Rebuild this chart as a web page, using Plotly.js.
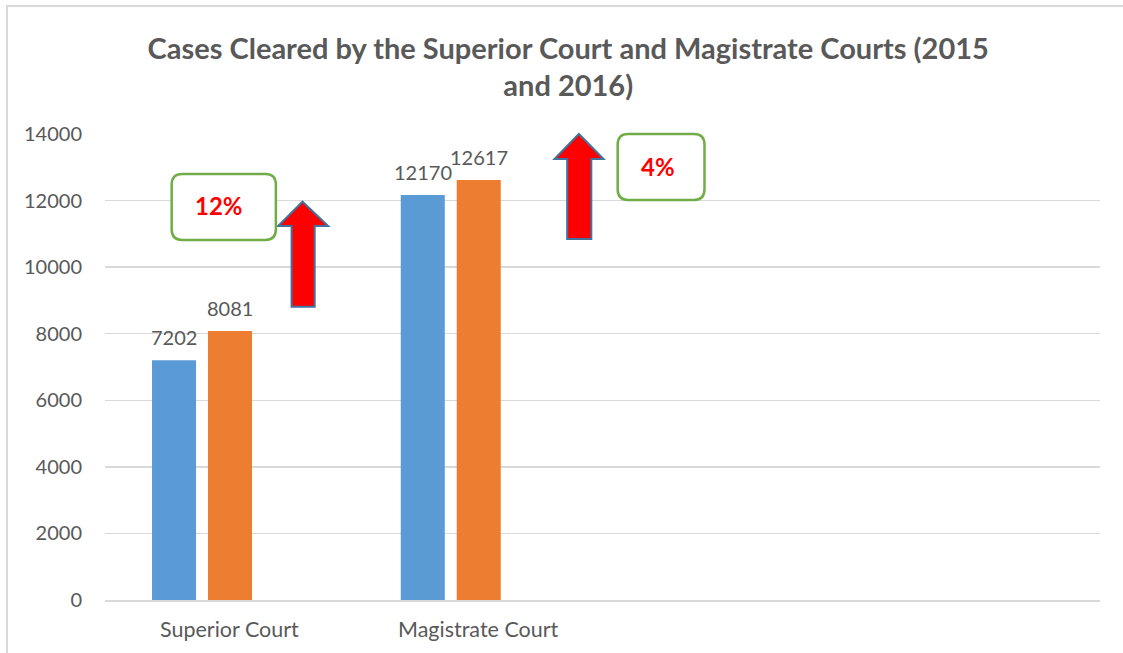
<!DOCTYPE html>
<html>
<head>
<meta charset="utf-8">
<script src="https://cdn.plot.ly/plotly-3.0.1.min.js"></script>
<style>html,body{margin:0;padding:0;background:#fff;}#chart{width:1123px;height:653px;}</style>
</head>
<body>
<div id="chart"></div>
<script>
// ---- data ----
const categories = ["Superior Court", "Magistrate Court", "", ""];
const series2015 = [7202, 12170];
const series2016 = [8081, 12617];
const changeLabels = ["12%", "4%"];

// ---- styling ----
const FONT = "Lato, 'Liberation Sans', Arial, sans-serif";
const GREY = "#595959";
const BAR_W = 0.177;
const OFF_2015 = -0.311;
const OFF_2016 = -0.086;
const X_RANGE = [-0.5, categories.length - 0.5];
const Y_RANGE = [0, 14000];

const catIdx = series2015.map((_, i) => i);

const traces = [
  {type: "bar", name: "2015", x: catIdx, y: series2015, width: BAR_W, offset: OFF_2015,
   marker: {color: "#5b9bd5"}, hoverinfo: "y"},
  {type: "bar", name: "2016", x: catIdx, y: series2016, width: BAR_W, offset: OFF_2016,
   marker: {color: "#ed7d31"}, hoverinfo: "y"}
];

// helpers to convert (category index, value) to paper coordinates
const PX = v => (v - X_RANGE[0]) / (X_RANGE[1] - X_RANGE[0]);
const PY = v => (v - Y_RANGE[0]) / (Y_RANGE[1] - Y_RANGE[0]);

// data labels
const annotations = [];
[[series2015, OFF_2015], [series2016, OFF_2016]].forEach(([vals, off]) => {
  vals.forEach((v, i) => {
    annotations.push({x: i + off + BAR_W / 2, y: v, xref: "x", yref: "y", text: String(v),
      showarrow: false, xanchor: "center", yanchor: "middle", yshift: 23,
      font: {family: FONT, size: 20, color: GREY}});
  });
});

// up-arrows and rounded callout boxes (decorations)
function arrowPath(a) {
  const p = (x, y) => PX(x).toFixed(5) + "," + PY(y).toFixed(5);
  return "M" + p(a.sx0, a.bottom) + " L" + p(a.sx0, a.headBase) + " L" + p(a.hx0, a.headBase) +
    " L" + p(a.tipX, a.tipY) + " L" + p(a.hx1, a.headBase) + " L" + p(a.sx1, a.headBase) +
    " L" + p(a.sx1, a.bottom) + " Z";
}
function roundBox(b) {
  const rx = 0.042, ry = 320;
  const p = (x, y) => PX(x).toFixed(5) + "," + PY(y).toFixed(5);
  return "M" + p(b.x0 + rx, b.y1) + " L" + p(b.x1 - rx, b.y1) + " Q" + p(b.x1, b.y1) + " " + p(b.x1, b.y1 - ry) +
    " L" + p(b.x1, b.y0 + ry) + " Q" + p(b.x1, b.y0) + " " + p(b.x1 - rx, b.y0) +
    " L" + p(b.x0 + rx, b.y0) + " Q" + p(b.x0, b.y0) + " " + p(b.x0, b.y0 + ry) +
    " L" + p(b.x0, b.y1 - ry) + " Q" + p(b.x0, b.y1) + " " + p(b.x0 + rx, b.y1) + " Z";
}
const arrows = [
  {tipX: 0.294, tipY: 11966, headBase: 11236, hx0: 0.196, hx1: 0.397, sx0: 0.250, sx1: 0.343, bottom: 8812},
  {tipX: 1.405, tipY: 14000, headBase: 13249, hx0: 1.307, hx1: 1.504, sx0: 1.358, sx1: 1.455, bottom: 10845}
];
const boxes = [
  {x0: -0.232, x1: 0.187, y0: 10815, y1: 12798, tx: -0.042, ty: 11846},
  {x0: 1.561, x1: 1.910, y0: 12017, y1: 14000, tx: 1.722, ty: 13017}
];

const shapes = [
  // outer chart border
  {type: "rect", xref: "paper", yref: "paper", x0: (7 - 105) / 995, x1: 1.2, y0: -0.3, y1: (600 - 6) / 466,
   line: {color: "#d9d9d9", width: 2}, fillcolor: "rgba(0,0,0,0)", layer: "below"}
];
arrows.forEach(a => shapes.push({type: "path", xref: "paper", yref: "paper", path: arrowPath(a),
  fillcolor: "#ff0000", line: {color: "#41719c", width: 2}}));
boxes.forEach((b, i) => {
  shapes.push({type: "path", xref: "paper", yref: "paper", path: roundBox(b),
    fillcolor: "#ffffff", line: {color: "#70ad47", width: 2.5}});
  annotations.push({x: PX(b.tx), y: PY(b.ty), xref: "paper", yref: "paper", text: "<b>" + changeLabels[i] + "</b>",
    showarrow: false, xanchor: "center", yanchor: "middle",
    font: {family: FONT, size: 24, color: "#ff0000"}});
});

const layout = {
  width: 1123, height: 653,
  margin: {l: 105, r: 23, t: 134, b: 53},
  paper_bgcolor: "#ffffff", plot_bgcolor: "#ffffff",
  showlegend: false,
  barmode: "group",
  title: {text: "<b>Cases Cleared by the Superior Court and Magistrate Courts (2015<br>and 2016)</b>",
    font: {family: FONT, size: 29, color: GREY},
    x: 0.506, xanchor: "center", y: 0.91, yanchor: "top", yref: "container"},
  xaxis: {range: X_RANGE, tickvals: categories.map((_, i) => i), ticktext: categories,
    showgrid: false, zeroline: false, showline: true, linecolor: "#d9d9d9", linewidth: 1.5,
    ticks: "", ticklabelstandoff: 10, tickfont: {family: FONT, size: 21.5, color: GREY}, fixedrange: true},
  yaxis: {range: Y_RANGE, dtick: 2000, tick0: 0, tickformat: "d", showgrid: true, gridcolor: "#d9d9d9", gridwidth: 1.5,
    zeroline: false, showline: false, ticks: "", ticklabelstandoff: 22,
    tickfont: {family: FONT, size: 20, color: GREY}, fixedrange: true},
  shapes: shapes,
  annotations: annotations
};

Plotly.newPlot("chart", traces, layout, {displayModeBar: false, staticPlot: true});
</script>
</body>
</html>
